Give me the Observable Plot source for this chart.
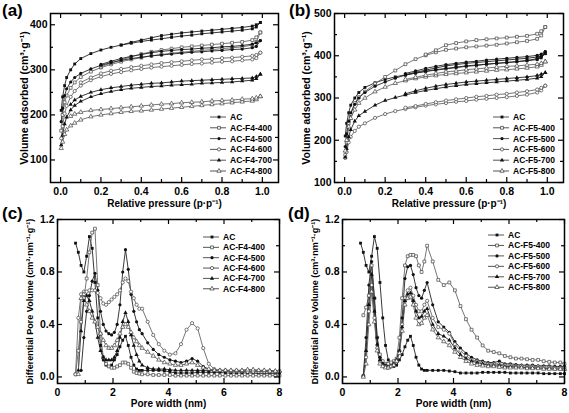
<!DOCTYPE html>
<html><head><meta charset="utf-8">
<script src="https://cdn.jsdelivr.net/npm/d3@7"></script>
<script src="https://cdn.jsdelivr.net/npm/@observablehq/plot@0.6"></script>
<style>
body{margin:0;background:#fff;font-family:"Liberation Sans",Arial,sans-serif;}
#fig{position:relative;width:569px;height:413px;overflow:hidden;}
.panel{position:absolute;}
.tag{position:absolute;font-weight:bold;font-size:17px;line-height:17px;font-family:"Liberation Sans",Arial,sans-serif;}
.legend{position:absolute;overflow:visible;}
</style></head><body><div id="fig"></div><script>
// ---------- isotherm data (relative pressure grid) ----------
const P = [0.003,0.01,0.02,0.03,0.05,0.07,0.1,0.15,0.2,0.25,0.3,0.35,0.4,0.45,0.5,0.55,0.6,0.65,0.7,0.75,0.8,0.85,0.9,0.95,0.97,0.99];
const AC_ads   = [210,240,265,283,300,313,325,336,344,350,355,359,363,366,369,372,375,377,380,382,384,386,388,391,395,405];
const AC_des   = [null,null,null,null,null,null,null,null,null,null,355,361,366,371,376,379,382,384,386,388,390,392,394,397,400,405];
const F4_400_ads = [165,200,228,243,260,272,284,296,305,312,318,323,327,331,334,337,339,341,343,345,347,349,351,355,362,383];
const F4_400_des = [null,null,null,null,null,null,null,null,307,315,322,329,335,340,344,347,350,352,354,356,358,360,362,366,372,383];
const F4_500_ads = [185,215,243,258,273,283,292,302,310,316,321,325,328,331,333,335,337,339,340,342,343,345,346,349,352,365];
const F4_500_des = [null,null,null,null,null,null,null,null,312,319,325,330,334,338,341,343,345,346,348,349,351,352,354,357,360,365];
const F4_600_ads = [148,175,203,220,240,253,265,277,285,291,295,299,302,305,307,309,311,313,314,316,318,319,321,323,326,338];
const F4_600_des = [null,null,null,null,null,null,272,283,292,298,302,306,309,312,315,317,319,321,323,324,326,327,329,331,333,338];
const F4_700_ads = [133,155,180,195,211,221,230,240,247,252,256,259,261,263,264,266,267,268,270,271,272,273,275,277,280,290];
const F4_700_des = [null,null,null,null,223,233,241,250,256,260,263,266,268,270,271,273,275,276,277,278,279,280,281,282,285,290];
const F4_800_ads = [126,140,157,167,176,182,189,196,200,203,206,208,209,211,213,215,217,219,221,223,225,227,229,231,234,241];
const F4_800_des = [null,null,null,null,197,202,206,210,212,214,216,218,220,222,224,225,227,228,229,231,232,233,235,236,238,241];

const F5_400_ads = [165,195,240,262,288,302,315,334,350,365,380,392,401,408,414,417,420,422,424,426,429,432,435,440,448,468];
const F5_400_des = [null,null,null,null,null,null,null,null,null,null,null,null,403,413,425,430,434,437,439,441,443,445,447,452,458,468];
const F5_500_ads = [185,215,245,265,285,300,313,328,338,347,354,359,363,367,370,373,376,378,380,382,384,386,389,393,398,410];
const F5_500_des = [null,null,null,null,null,null,null,null,null,null,358,364,370,375,379,382,385,387,390,392,394,396,398,401,404,410];
const F5_600_ads = [158,172,195,208,222,232,240,253,262,269,274,278,282,285,288,291,293,296,298,300,302,305,308,313,318,329];
const F5_600_des = [null,null,null,null,null,null,null,null,null,null,277,281,286,290,294,297,300,303,305,308,310,313,316,320,324,329];
const F5_700_ads = [160,180,208,225,245,258,268,283,294,301,307,313,318,322,326,329,332,334,336,338,340,342,344,347,350,360];
const F5_700_des = [null,null,null,null,null,null,null,null,null,null,310,317,323,328,332,335,338,340,342,344,346,348,350,353,356,360];
const F5_800_ads = [175,200,232,252,272,288,300,315,326,335,341,346,350,353,356,358,360,362,364,366,367,369,371,374,378,386];
const F5_800_des = [null,null,null,null,null,null,null,null,null,null,344,349,354,358,362,364,367,369,371,373,375,376,378,380,382,386];

// ---------- pore size distribution data (pore width grid, nm) ----------
const PW = [0.65,0.75,0.85,0.95,1.05,1.15,1.25,1.35,1.45,1.55,1.65,1.75,1.85,1.95,2.05,2.15,2.25,2.35,2.45,2.55,2.65,2.75,2.85,2.95,3.05,3.25,3.45,3.65,3.85,4.05,4.25,4.45,4.65,4.85,5.05,5.25,5.45,5.65,5.85,6.05,6.25,6.45,6.65,6.85,7.05,7.25,7.45,7.65,7.85,8.0];
const AC_psd = [1.02,0.95,0.85,0.80,0.92,1.07,0.98,0.72,0.45,0.24, 0.13,0.09,0.08,0.09,0.13,0.17,0.23,0.28,0.31,0.24, 0.15,0.09,0.06,0.05,0.05,0.05,0.05,0.05,0.045,0.04, 0.03,0.03,0.03,0.03,0.035,0.035,0.035,0.035,0.035,0.03, 0.03,0.03,0.03,0.03,0.03,0.025,0.025,0.025,0.025,0.025];
const F4_400_psd = [0.02,0.2,0.42,0.6,0.75,0.95,1.1,1.13,0.7,0.33, 0.15,0.1,0.08,0.07,0.07,0.08,0.09,0.11,0.11,0.1, 0.07,0.04,0.03,0.025,0.02,0.02,0.015,0.015,0.015,0.015, 0.01,0.01,0.01,0.01,0.01,0.01,0.01,0.01,0.01,0.01, 0.01,0.01,0.01,0.01,0.01,0.01,0.01,0.01,0.01,0.01];
const F4_500_psd = [null,null,0.05,0.3,0.5,0.62,0.73,0.79,0.66,0.5, 0.4,0.35,0.33,0.32,0.34,0.4,0.55,0.8,0.97,0.82, 0.63,0.5,0.42,0.36,0.33,0.26,0.21,0.17,0.15,0.13, 0.12,0.11,0.12,0.14,0.12,0.08,0.06,0.05,0.05,0.045, 0.045,0.045,0.04,0.04,0.04,0.04,0.04,0.04,0.04,0.04];
const F4_600_psd = [0.02,0.45,0.63,0.65,0.65,0.66,0.66,0.66,0.64,0.6, 0.56,0.55,0.57,0.59,0.61,0.63,0.66,0.72,0.75,0.73, 0.65,0.6,0.55,0.52,0.52,0.42,0.32,0.25,0.2,0.17, 0.18,0.25,0.36,0.41,0.37,0.22,0.1,0.06,0.05,0.05, 0.045,0.045,0.045,0.04,0.04,0.04,0.04,0.04,0.04,0.04];
const F4_700_psd = [null,0.05,0.35,0.58,0.62,0.58,0.5,0.42,0.3,0.2, 0.15,0.13,0.13,0.13,0.15,0.2,0.3,0.42,0.49,0.42, 0.32,0.24,0.17,0.12,0.09,0.07,0.06,0.06,0.06,0.055, 0.05,0.05,0.05,0.05,0.05,0.05,0.05,0.05,0.05,0.05, 0.05,0.05,0.05,0.055,0.055,0.05,0.05,0.05,0.045,0.045];
const F4_800_psd = [null,0.02,0.6,0.63,0.55,0.5,0.45,0.42,0.38,0.33, 0.28,0.24,0.22,0.22,0.24,0.28,0.33,0.38,0.4,0.38, 0.34,0.3,0.27,0.24,0.22,0.19,0.16,0.13,0.11,0.1, 0.09,0.09,0.1,0.11,0.09,0.07,0.06,0.05,0.05,0.05, 0.05,0.05,0.05,0.055,0.055,0.05,0.05,0.045,0.045,0.045];
const F5_400_psd = [null,0.47,0.53,0.62,0.85,0.6,0.3,0.17,0.12,0.1, 0.1,0.11,0.12,0.14,0.3,0.6,0.85,0.92,0.93,0.93, 0.92,0.85,0.8,0.88,1.0,0.88,0.74,0.7,0.72,0.66, 0.54,0.44,0.36,0.3,0.24,0.2,0.19,0.18,0.16,0.15, 0.14,0.14,0.135,0.13,0.13,0.12,0.115,0.11,0.11,0.1];
const F5_500_psd = [null,0.01,0.3,0.7,0.88,0.6,0.3,0.15,0.1,0.09, 0.08,0.08,0.1,0.13,0.2,0.45,0.75,0.84,0.85,0.78, 0.68,0.62,0.6,0.66,0.72,0.55,0.42,0.38,0.34,0.27, 0.22,0.18,0.15,0.13,0.12,0.11,0.11,0.12,0.1,0.1, 0.095,0.09,0.09,0.09,0.085,0.085,0.085,0.08,0.08,0.08];
const F5_600_psd = [null,0.01,0.15,0.5,0.7,0.45,0.22,0.12,0.09,0.08, 0.07,0.08,0.1,0.13,0.2,0.4,0.6,0.66,0.68,0.62, 0.55,0.5,0.5,0.55,0.58,0.45,0.38,0.36,0.33,0.25, 0.2,0.16,0.13,0.12,0.11,0.1,0.1,0.1,0.09,0.09, 0.085,0.085,0.08,0.08,0.08,0.075,0.075,0.07,0.07,0.07];
const F5_700_psd = [null,0.01,0.2,0.55,0.78,0.5,0.25,0.13,0.1,0.08, 0.07,0.08,0.1,0.13,0.2,0.38,0.58,0.63,0.64,0.58, 0.5,0.45,0.46,0.5,0.52,0.4,0.33,0.31,0.28,0.22, 0.17,0.14,0.12,0.11,0.1,0.09,0.09,0.09,0.08,0.08, 0.075,0.075,0.07,0.07,0.07,0.065,0.065,0.06,0.06,0.06];
const F5_800_psd = [null,0.0,0.1,0.4,0.65,0.42,0.2,0.1,0.08,0.07, 0.07,0.08,0.09,0.12,0.18,0.35,0.55,0.6,0.61,0.55, 0.45,0.4,0.41,0.45,0.47,0.36,0.3,0.27,0.24,0.19, 0.15,0.12,0.1,0.09,0.085,0.08,0.08,0.075,0.07,0.07, 0.07,0.07,0.065,0.065,0.065,0.06,0.06,0.06,0.06,0.06];

// ---------- labels & ticks ----------
const namesF4 = ["AC","AC-F4-400","AC-F4-500","AC-F4-600","AC-F4-700","AC-F4-800"];
const namesF5 = ["AC","AC-F5-400","AC-F5-500","AC-F5-600","AC-F5-700","AC-F5-800"];
const symbols = ["square","square","circle","circle","triangle","triangle"];
const filled = [true,false,true,false,true,false];
const pTicks = [0,0.2,0.4,0.6,0.8,1.0], pMinor = [0.1,0.3,0.5,0.7,0.9];
const vTicksA = [100,200,300,400], vMinorA = [150,250,350];
const vTicksB = [100,200,300,400,500], vMinorB = [150,250,350,450];
const wTicks = [0,2,4,6,8], wMinor = [1,3,5,7];
const dTicks = [0,0.4,0.8,1.2], dMinor = [0.2,0.6,1.0];
const isoX = "Relative pressure (p\u00b7p\u207b\u00b9)";
const isoY = "Volume adsorbed (cm\u00b3\u00b7g\u207b\u00b9)";
const psdX = "Pore width (nm)";
const psdY = "Differential Pore Volume (cm\u00b3\u00b7nm\u207b\u00b9\u00b7g\u207b\u00b9)";

function isoRows(name, ads, des) {
  const rows = [];
  P.forEach((p, i) => { if (ads[i] != null) rows.push({x: p, y: ads[i], b: "ads"}); });
  P.forEach((p, i) => { if (des[i] != null) rows.push({x: p, y: des[i], b: "des"}); });
  return rows;
}
function psdRows(vals) {
  const rows = [];
  PW.forEach((w, i) => { if (vals[i] != null) rows.push({x: w, y: vals[i], b: "psd"}); });
  return rows;
}

const FONT = "'Liberation Sans', Arial, sans-serif";
const fig = document.getElementById("fig");

function panel(cfg) {
  const W = cfg.width - cfg.ml - cfg.mr, H = cfg.height - cfg.mt - cfg.mb;
  const marks = [];
  cfg.series.forEach((rows, k) => {
    marks.push(Plot.line(rows, {x: "x", y: "y", z: "b", stroke: filled[k] ? "#222" : "#666", strokeWidth: 0.9}));
  });
  cfg.series.forEach((rows, k) => {
    marks.push(Plot.dot(rows, {x: "x", y: "y", symbol: symbols[k], r: 1.6,
      fill: filled[k] ? "#111" : "white", stroke: filled[k] ? "none" : "#444", strokeWidth: 0.7}));
  });
  const id = d => d;
  marks.push(
    Plot.tickX(cfg.xMajor, {x: id, insetTop: H - 5, strokeWidth: 1.2}),
    Plot.tickX(cfg.xMajor, {x: id, insetBottom: H - 5, strokeWidth: 1.2}),
    Plot.tickX(cfg.xMinor, {x: id, insetTop: H - 3, strokeWidth: 1.2}),
    Plot.tickX(cfg.xMinor, {x: id, insetBottom: H - 3, strokeWidth: 1.2}),
    Plot.tickY(cfg.yMajor, {y: id, insetRight: W - 5, strokeWidth: 1.2}),
    Plot.tickY(cfg.yMajor, {y: id, insetLeft: W - 5, strokeWidth: 1.2}),
    Plot.tickY(cfg.yMinor, {y: id, insetRight: W - 3, strokeWidth: 1.2}),
    Plot.tickY(cfg.yMinor, {y: id, insetLeft: W - 3, strokeWidth: 1.2}),
    Plot.frame({stroke: "black", strokeWidth: 1.5}),
    Plot.axisX(cfg.xMajor, {tickSize: 0, tickPadding: cfg.xPad, tickFormat: cfg.xFormat, label: null, fontSize: 10.5, fontWeight: "bold"}),
    Plot.axisY(cfg.yMajor, {tickSize: 0, tickPadding: 3, tickFormat: cfg.yFormat, label: null, fontSize: 10.5, fontWeight: "bold"}),
    Plot.text([cfg.xLabel], {text: id, frameAnchor: "bottom", dy: cfg.xdy, textAnchor: "middle", lineAnchor: "middle", fontSize: 10, fontWeight: "bold"}),
    Plot.text([cfg.yLabel], {text: id, frameAnchor: "left", dx: cfg.ydx, rotate: -90, textAnchor: "middle", lineAnchor: "middle", fontSize: cfg.yfs, fontWeight: "bold"})
  );
  const svg = Plot.plot({
    width: cfg.width, height: cfg.height,
    marginLeft: cfg.ml, marginRight: cfg.mr, marginTop: cfg.mt, marginBottom: cfg.mb,
    x: {domain: cfg.xDomain, axis: null},
    y: {domain: cfg.yDomain, axis: null},
    style: {background: "transparent", fontFamily: FONT, fontWeight: "bold", color: "black", overflow: "visible"},
    marks
  });
  svg.classList.add("panel");
  svg.style.left = cfg.left + "px";
  svg.style.top = cfg.top + "px";
  svg.style.position = "absolute";
  fig.appendChild(svg);
}

function legend(names, left, top, rowH) {
  const svg = d3.select(fig).append("svg").attr("class", "legend")
    .style("left", left + "px").style("top", top + "px")
    .attr("width", 80).attr("height", rowH * 6 + 4);
  const shapes = {square: d3.symbolSquare, circle: d3.symbolCircle, triangle: d3.symbolTriangle};
  names.forEach((n, k) => {
    const y = 4 + k * rowH;
    svg.append("line").attr("x1", 0).attr("x2", 16).attr("y1", y).attr("y2", y).attr("stroke", "#555").attr("stroke-width", 1);
    svg.append("path").attr("d", d3.symbol(shapes[symbols[k]], 8)())
      .attr("transform", `translate(9,${y})`)
      .attr("fill", filled[k] ? "#111" : "white").attr("stroke", filled[k] ? "none" : "#333").attr("stroke-width", 0.7);
    svg.append("text").attr("x", 20).attr("y", y).attr("dy", "0.35em")
      .attr("font-family", FONT).attr("font-weight", "bold").attr("font-size", 8.5).text(n);
  });
}

function tag(text, left, top) {
  const d = document.createElement("div");
  d.className = "tag"; d.textContent = text;
  d.style.left = left + "px"; d.style.top = top + "px";
  fig.appendChild(d);
}

// (a)
panel({left: 0, top: 0, width: 282, height: 210, ml: 50, mr: 4, mt: 13, mb: 28,
  xDomain: [-0.05, 1.08], yDomain: [50, 425], xMajor: pTicks, xMinor: pMinor, yMajor: vTicksA, yMinor: vMinorA,
  xFormat: ".1f", yFormat: "d", xPad: 5, xLabel: isoX, yLabel: isoY, xdy: 21, ydx: -26, yfs: 10.5,
  series: [isoRows(namesF4[0], AC_ads, AC_des), isoRows(namesF4[1], F4_400_ads, F4_400_des), isoRows(namesF4[2], F4_500_ads, F4_500_des),
           isoRows(namesF4[3], F4_600_ads, F4_600_des), isoRows(namesF4[4], F4_700_ads, F4_700_des), isoRows(namesF4[5], F4_800_ads, F4_800_des)]});
// (b)
panel({left: 285, top: 0, width: 282, height: 210, ml: 49, mr: 4, mt: 13, mb: 28,
  xDomain: [-0.05, 1.08], yDomain: [100, 500], xMajor: pTicks, xMinor: pMinor, yMajor: vTicksB, yMinor: vMinorB,
  xFormat: ".1f", yFormat: "d", xPad: 5, xLabel: isoX, yLabel: isoY, xdy: 21, ydx: -28, yfs: 10.5,
  series: [isoRows(namesF5[0], AC_ads, AC_des), isoRows(namesF5[1], F5_400_ads, F5_400_des), isoRows(namesF5[2], F5_500_ads, F5_500_des),
           isoRows(namesF5[3], F5_600_ads, F5_600_des), isoRows(namesF5[4], F5_700_ads, F5_700_des), isoRows(namesF5[5], F5_800_ads, F5_800_des)]});
// (c)
panel({left: 0, top: 210, width: 282, height: 203, ml: 57, mr: 3, mt: 9, mb: 30,
  xDomain: [0, 8], yDomain: [-0.05, 1.2], xMajor: wTicks, xMinor: wMinor, yMajor: dTicks, yMinor: dMinor,
  xFormat: "d", yFormat: ".1f", xPad: 5, xLabel: psdX, yLabel: psdY, xdy: 20, ydx: -27, yfs: 9,
  series: [psdRows(AC_psd), psdRows(F4_400_psd), psdRows(F4_500_psd), psdRows(F4_600_psd), psdRows(F4_700_psd), psdRows(F4_800_psd)]});
// (d)
panel({left: 285, top: 210, width: 282, height: 203, ml: 57, mr: 3, mt: 9, mb: 30,
  xDomain: [0, 8], yDomain: [-0.05, 1.2], xMajor: wTicks, xMinor: wMinor, yMajor: dTicks, yMinor: dMinor,
  xFormat: "d", yFormat: ".1f", xPad: 5, xLabel: psdX, yLabel: psdY, xdy: 20, ydx: -27, yfs: 9,
  series: [psdRows(AC_psd), psdRows(F5_400_psd), psdRows(F5_500_psd), psdRows(F5_600_psd), psdRows(F5_700_psd), psdRows(F5_800_psd)]});

legend(namesF4, 210, 113, 10.8);
legend(namesF5, 493, 113, 10.8);
legend(namesF4, 203, 233, 10.35);
legend(namesF5, 488, 231, 10.45);

tag("(a)", 2, 2);
tag("(b)", 289, 2);
tag("(c)", 2, 205);
tag("(d)", 288, 205);
</script></body></html>
